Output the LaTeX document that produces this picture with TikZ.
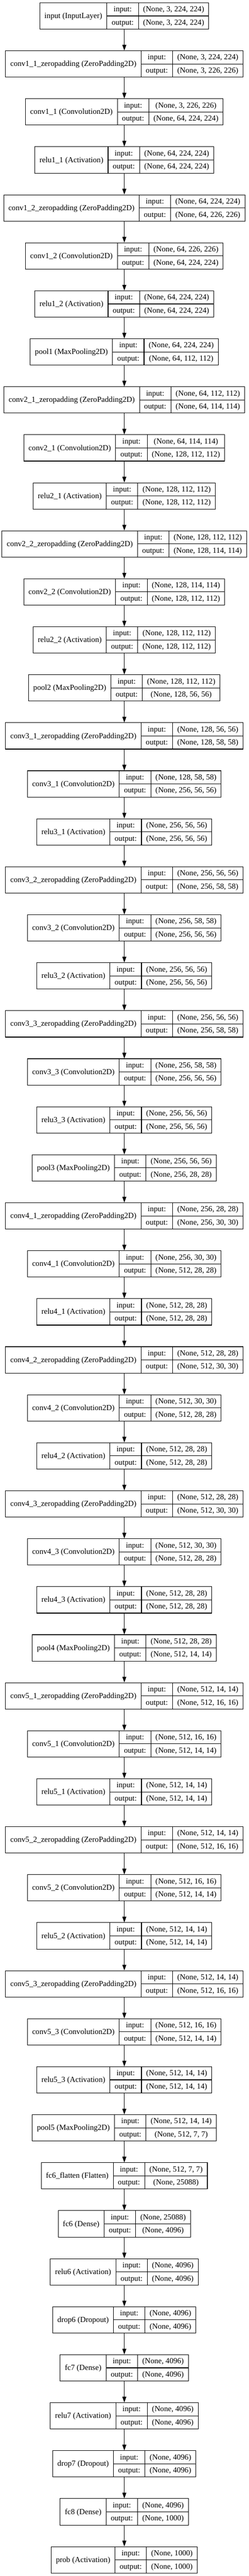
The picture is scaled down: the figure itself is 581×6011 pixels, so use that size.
\documentclass[tikz,border=0pt]{standalone}
\usepackage{fontspec}
\setmainfont{Liberation Serif}
\usetikzlibrary{arrows.meta}
\font\lyprim="Liberation Serif" at 18.2pt
\newlength\lwA \newlength\lwB \newlength\lwC \newlength\lwD
\newcommand\us{\char95 }
\tikzset{
  layerbox/.style={draw, line width=1.3pt, inner sep=0pt, minimum height=61.5pt},
  sepline/.style={line width=1.3pt},
  lbl/.style={inner sep=0pt, font=\lyprim, anchor=base},
  edge/.style={line width=1.3pt, -{Triangle[length=13.3pt,width=9.3pt]}}
}
\newcommand\mklayer[4]{%
  \settowidth\lwA{\lyprim #2}%
  \settowidth\lwB{\lyprim output:}%
  \settowidth\lwC{\lyprim #3}%
  \settowidth\lwD{\lyprim #4}%
  \ifdim\lwD>\lwC \lwC=\lwD\fi
  \pgfmathsetmacro\fa{\lwA+22}%
  \pgfmathsetmacro\fb{\lwB+22}%
  \pgfmathsetmacro\fc{\lwC+22}%
  \pgfmathsetmacro\tw{\fa+\fb+\fc}%
  \pgfmathsetmacro\cy{-(37.25+(#1-1)*112)}%
  \pgfmathsetmacro\yt{\cy+30.75}%
  \pgfmathsetmacro\ybt{\cy-30.75}%
  \pgfmathsetmacro\yl{\cy-5.5}%
  \pgfmathsetmacro\yi{\cy+15.375-5.5}%
  \pgfmathsetmacro\yo{\cy-15.375-5.5}%
  \pgfmathsetmacro\xl{290.5-\tw/2}%
  \pgfmathsetmacro\xa{\xl+\fa}%
  \pgfmathsetmacro\xb{\xa+\fb}%
  \pgfmathsetmacro\xr{\xl+\tw}%
  \pgfmathsetmacro\xna{(\xl+\xa)/2}%
  \pgfmathsetmacro\xnb{(\xa+\xb)/2}%
  \pgfmathsetmacro\xnc{(\xb+\xr)/2}%
  \node[layerbox, minimum width=\tw pt] (L#1) at (290.5pt,\cy pt) {};
  \draw[sepline] (\xa pt,\yt pt) -- (\xa pt,\ybt pt);
  \draw[sepline] (\xb pt,\yt pt) -- (\xb pt,\ybt pt);
  \draw[sepline] (\xa pt,\cy pt) -- (\xr pt,\cy pt);
  \node[lbl] (L#1name) at (\xna pt,\yl pt) {#2};
  \node[lbl] (L#1ik) at (\xnb pt,\yi pt) {input:};
  \node[lbl] (L#1ok) at (\xnb pt,\yo pt) {output:};
  \node[lbl] (L#1iv) at (\xnc pt,\yi pt) {#3};
  \node[lbl] (L#1ov) at (\xnc pt,\yo pt) {#4};
}
\begin{document}
\begin{tikzpicture}
\useasboundingbox[fill=white] (0pt,0pt) rectangle (581pt,-6011pt);
\mklayer{1}{input (InputLayer)}{(None, 3, 224, 224)}{(None, 3, 224, 224)}
\mklayer{2}{conv1\us 1\us zeropadding (ZeroPadding2D)}{(None, 3, 224, 224)}{(None, 3, 226, 226)}
\mklayer{3}{conv1\us 1 (Convolution2D)}{(None, 3, 226, 226)}{(None, 64, 224, 224)}
\mklayer{4}{relu1\us 1 (Activation)}{(None, 64, 224, 224)}{(None, 64, 224, 224)}
\mklayer{5}{conv1\us 2\us zeropadding (ZeroPadding2D)}{(None, 64, 224, 224)}{(None, 64, 226, 226)}
\mklayer{6}{conv1\us 2 (Convolution2D)}{(None, 64, 226, 226)}{(None, 64, 224, 224)}
\mklayer{7}{relu1\us 2 (Activation)}{(None, 64, 224, 224)}{(None, 64, 224, 224)}
\mklayer{8}{pool1 (MaxPooling2D)}{(None, 64, 224, 224)}{(None, 64, 112, 112)}
\mklayer{9}{conv2\us 1\us zeropadding (ZeroPadding2D)}{(None, 64, 112, 112)}{(None, 64, 114, 114)}
\mklayer{10}{conv2\us 1 (Convolution2D)}{(None, 64, 114, 114)}{(None, 128, 112, 112)}
\mklayer{11}{relu2\us 1 (Activation)}{(None, 128, 112, 112)}{(None, 128, 112, 112)}
\mklayer{12}{conv2\us 2\us zeropadding (ZeroPadding2D)}{(None, 128, 112, 112)}{(None, 128, 114, 114)}
\mklayer{13}{conv2\us 2 (Convolution2D)}{(None, 128, 114, 114)}{(None, 128, 112, 112)}
\mklayer{14}{relu2\us 2 (Activation)}{(None, 128, 112, 112)}{(None, 128, 112, 112)}
\mklayer{15}{pool2 (MaxPooling2D)}{(None, 128, 112, 112)}{(None, 128, 56, 56)}
\mklayer{16}{conv3\us 1\us zeropadding (ZeroPadding2D)}{(None, 128, 56, 56)}{(None, 128, 58, 58)}
\mklayer{17}{conv3\us 1 (Convolution2D)}{(None, 128, 58, 58)}{(None, 256, 56, 56)}
\mklayer{18}{relu3\us 1 (Activation)}{(None, 256, 56, 56)}{(None, 256, 56, 56)}
\mklayer{19}{conv3\us 2\us zeropadding (ZeroPadding2D)}{(None, 256, 56, 56)}{(None, 256, 58, 58)}
\mklayer{20}{conv3\us 2 (Convolution2D)}{(None, 256, 58, 58)}{(None, 256, 56, 56)}
\mklayer{21}{relu3\us 2 (Activation)}{(None, 256, 56, 56)}{(None, 256, 56, 56)}
\mklayer{22}{conv3\us 3\us zeropadding (ZeroPadding2D)}{(None, 256, 56, 56)}{(None, 256, 58, 58)}
\mklayer{23}{conv3\us 3 (Convolution2D)}{(None, 256, 58, 58)}{(None, 256, 56, 56)}
\mklayer{24}{relu3\us 3 (Activation)}{(None, 256, 56, 56)}{(None, 256, 56, 56)}
\mklayer{25}{pool3 (MaxPooling2D)}{(None, 256, 56, 56)}{(None, 256, 28, 28)}
\mklayer{26}{conv4\us 1\us zeropadding (ZeroPadding2D)}{(None, 256, 28, 28)}{(None, 256, 30, 30)}
\mklayer{27}{conv4\us 1 (Convolution2D)}{(None, 256, 30, 30)}{(None, 512, 28, 28)}
\mklayer{28}{relu4\us 1 (Activation)}{(None, 512, 28, 28)}{(None, 512, 28, 28)}
\mklayer{29}{conv4\us 2\us zeropadding (ZeroPadding2D)}{(None, 512, 28, 28)}{(None, 512, 30, 30)}
\mklayer{30}{conv4\us 2 (Convolution2D)}{(None, 512, 30, 30)}{(None, 512, 28, 28)}
\mklayer{31}{relu4\us 2 (Activation)}{(None, 512, 28, 28)}{(None, 512, 28, 28)}
\mklayer{32}{conv4\us 3\us zeropadding (ZeroPadding2D)}{(None, 512, 28, 28)}{(None, 512, 30, 30)}
\mklayer{33}{conv4\us 3 (Convolution2D)}{(None, 512, 30, 30)}{(None, 512, 28, 28)}
\mklayer{34}{relu4\us 3 (Activation)}{(None, 512, 28, 28)}{(None, 512, 28, 28)}
\mklayer{35}{pool4 (MaxPooling2D)}{(None, 512, 28, 28)}{(None, 512, 14, 14)}
\mklayer{36}{conv5\us 1\us zeropadding (ZeroPadding2D)}{(None, 512, 14, 14)}{(None, 512, 16, 16)}
\mklayer{37}{conv5\us 1 (Convolution2D)}{(None, 512, 16, 16)}{(None, 512, 14, 14)}
\mklayer{38}{relu5\us 1 (Activation)}{(None, 512, 14, 14)}{(None, 512, 14, 14)}
\mklayer{39}{conv5\us 2\us zeropadding (ZeroPadding2D)}{(None, 512, 14, 14)}{(None, 512, 16, 16)}
\mklayer{40}{conv5\us 2 (Convolution2D)}{(None, 512, 16, 16)}{(None, 512, 14, 14)}
\mklayer{41}{relu5\us 2 (Activation)}{(None, 512, 14, 14)}{(None, 512, 14, 14)}
\mklayer{42}{conv5\us 3\us zeropadding (ZeroPadding2D)}{(None, 512, 14, 14)}{(None, 512, 16, 16)}
\mklayer{43}{conv5\us 3 (Convolution2D)}{(None, 512, 16, 16)}{(None, 512, 14, 14)}
\mklayer{44}{relu5\us 3 (Activation)}{(None, 512, 14, 14)}{(None, 512, 14, 14)}
\mklayer{45}{pool5 (MaxPooling2D)}{(None, 512, 14, 14)}{(None, 512, 7, 7)}
\mklayer{46}{fc6\us flatten (Flatten)}{(None, 512, 7, 7)}{(None, 25088)}
\mklayer{47}{fc6 (Dense)}{(None, 25088)}{(None, 4096)}
\mklayer{48}{relu6 (Activation)}{(None, 4096)}{(None, 4096)}
\mklayer{49}{drop6 (Dropout)}{(None, 4096)}{(None, 4096)}
\mklayer{50}{fc7 (Dense)}{(None, 4096)}{(None, 4096)}
\mklayer{51}{relu7 (Activation)}{(None, 4096)}{(None, 4096)}
\mklayer{52}{drop7 (Dropout)}{(None, 4096)}{(None, 4096)}
\mklayer{53}{fc8 (Dense)}{(None, 4096)}{(None, 1000)}
\mklayer{54}{prob (Activation)}{(None, 1000)}{(None, 1000)}
\foreach \i in {1,...,53}{
  \pgfmathtruncatemacro\j{\i+1}
  \draw[edge] (L\i.south) -- (L\j.north);
}
\end{tikzpicture}
\end{document}
